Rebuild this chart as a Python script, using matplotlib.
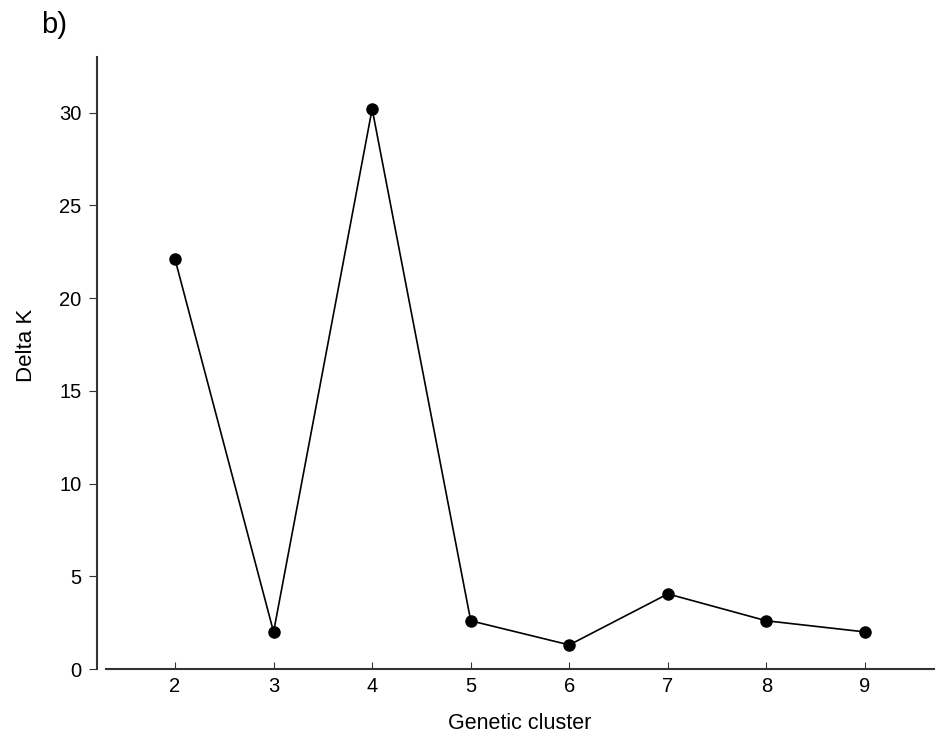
import matplotlib
matplotlib.use("Agg")
import matplotlib.pyplot as plt

clusters = [2, 3, 4, 5, 6, 7, 8, 9]
delta_k = [22.1, 2.0, 30.2, 2.6, 1.3, 4.05, 2.6, 2.0]
yticks = [0, 5, 10, 15, 20, 25, 30]

plt.rcParams['font.family'] = ['Liberation Sans', 'DejaVu Sans']

fig = plt.figure(figsize=(9.44, 7.39), dpi=100)
ax = fig.add_axes([0.1123, 0.0947, 0.8771, 0.8282])
ax.plot(clusters, delta_k, color='black', linewidth=1.2, marker='o',
        markersize=8, markerfacecolor='black', markeredgecolor='black')
ax.set_xlim(1.3, 9.7)
ax.set_ylim(0, 33)
ax.set_xticks(clusters)
ax.set_yticks(yticks)
for s in ['top', 'right']:
    ax.spines[s].set_visible(False)
ax.spines['left'].set_position(('outward', 6.5))
ax.spines['left'].set_linewidth(1.5)
ax.spines['bottom'].set_linewidth(1.5)
ax.spines['left'].set_color('#333333')
ax.spines['bottom'].set_color('#333333')
ax.tick_params(axis='y', direction='out', length=6, width=0.8, labelsize=14.5, pad=5, color='#333333')
ax.tick_params(axis='x', direction='in', length=5, width=0.8, labelsize=14.5, pad=6, color='#333333')
ax.set_xlabel('Genetic cluster', fontsize=15.5, labelpad=12)
ax.set_ylabel('Delta K', fontsize=16, labelpad=16)
ax.yaxis.set_label_coords(-0.083, 0.528)
fig.text(0.043, 0.985, 'b)', fontsize=21, va='top', ha='left')
fig.savefig('out.png', dpi=100)
